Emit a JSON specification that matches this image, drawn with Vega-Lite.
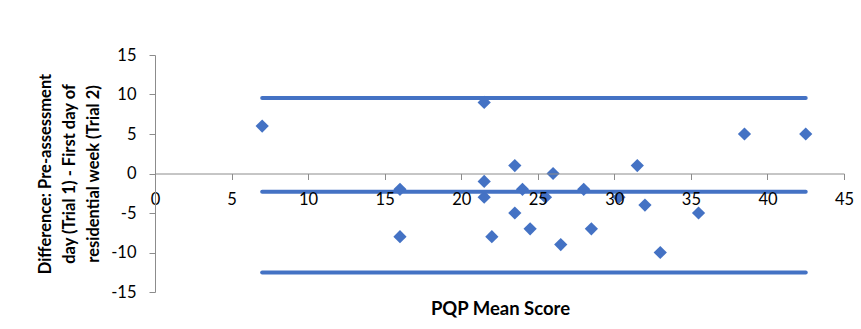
{
  "$schema": "https://vega.github.io/schema/vega-lite/v6.json",
  "width": 689,
  "height": 237,
  "autosize": {"type": "none"},
  "padding": {"left": 155, "top": 55, "right": 17, "bottom": 37},
  "background": "white",
  "config": {"view": {"stroke": null}, "font": "Lato"},
  "datasets": {
    "points": [
      {"mean": 7, "diff": 6},
      {"mean": 16, "diff": -2},
      {"mean": 16, "diff": -8},
      {"mean": 21.5, "diff": 9},
      {"mean": 21.5, "diff": -1},
      {"mean": 21.5, "diff": -3},
      {"mean": 22, "diff": -8},
      {"mean": 23.5, "diff": 1},
      {"mean": 23.5, "diff": -5},
      {"mean": 24, "diff": -2},
      {"mean": 24.5, "diff": -7},
      {"mean": 25.5, "diff": -3},
      {"mean": 26, "diff": 0},
      {"mean": 26.5, "diff": -9},
      {"mean": 28, "diff": -2},
      {"mean": 28.5, "diff": -7},
      {"mean": 30.3, "diff": -3},
      {"mean": 31.5, "diff": 1},
      {"mean": 32, "diff": -4},
      {"mean": 33, "diff": -10},
      {"mean": 35.5, "diff": -5},
      {"mean": 38.5, "diff": 5},
      {"mean": 42.5, "diff": 5}
    ],
    "limits": [
      {"limit": "upper", "mean": 7, "diff": 9.57},
      {"limit": "upper", "mean": 42.5, "diff": 9.57},
      {"limit": "bias", "mean": 7, "diff": -2.3},
      {"limit": "bias", "mean": 42.5, "diff": -2.3},
      {"limit": "lower", "mean": 7, "diff": -12.54},
      {"limit": "lower", "mean": 42.5, "diff": -12.54}
    ]
  },
  "encoding": {
    "x": {
      "field": "mean",
      "type": "quantitative",
      "scale": {"domain": [0, 45], "nice": false, "zero": false},
      "axis": {
        "orient": "bottom",
        "offset": -118.5,
        "values": [0, 5, 10, 15, 20, 25, 30, 35, 40, 45],
        "grid": false,
        "domainColor": "#8c8c8c",
        "tickColor": "#8c8c8c",
        "tickSize": 6,
        "labelFontSize": 16.5,
        "labelColor": "#000000",
        "labelPadding": 12,
        "labelFlush": false,
        "labelOverlap": false,
        "labelExpr": "datum.value + ''",
        "title": "PQP Mean Score",
        "titleFontSize": 18.5,
        "titleFontWeight": "bold",
        "titleColor": "#000000",
        "titleX": 345,
        "titleY": 135,
        "titleAlign": "center",
        "titleBaseline": "middle",
        "zindex": 1
      }
    },
    "y": {
      "field": "diff",
      "type": "quantitative",
      "scale": {"domain": [-15, 15], "nice": false, "zero": false},
      "axis": {
        "orient": "left",
        "values": [-15, -10, -5, 0, 5, 10, 15],
        "grid": false,
        "domainColor": "#8c8c8c",
        "tickColor": "#8c8c8c",
        "tickSize": 6,
        "labelFontSize": 16.5,
        "labelColor": "#000000",
        "labelPadding": 13,
        "labelFlush": false,
        "labelOverlap": false,
        "labelExpr": "datum.value + ''",
        "title": ["Difference: Pre-assessment", "day (Trial 1) - First day of", "residential week (Trial 2)"],
        "titleFontSize": 16.5,
        "titleFontWeight": "bold",
        "titleColor": "#000000",
        "titleLineHeight": 24,
        "titleAngle": -90,
        "titleX": -110,
        "titleY": 118.5,
        "titleAlign": "center",
        "titleBaseline": "middle",
        "zindex": 1
      }
    }
  },
  "layer": [
    {
      "data": {"name": "points"},
      "mark": {"type": "point", "shape": "diamond", "filled": true, "size": 175, "color": "#4472C4", "opacity": 1}
    },
    {
      "data": {"name": "limits"},
      "mark": {"type": "line", "color": "#4472C4", "strokeWidth": 4, "strokeCap": "round"},
      "encoding": {"detail": {"field": "limit"}}
    }
  ]
}
